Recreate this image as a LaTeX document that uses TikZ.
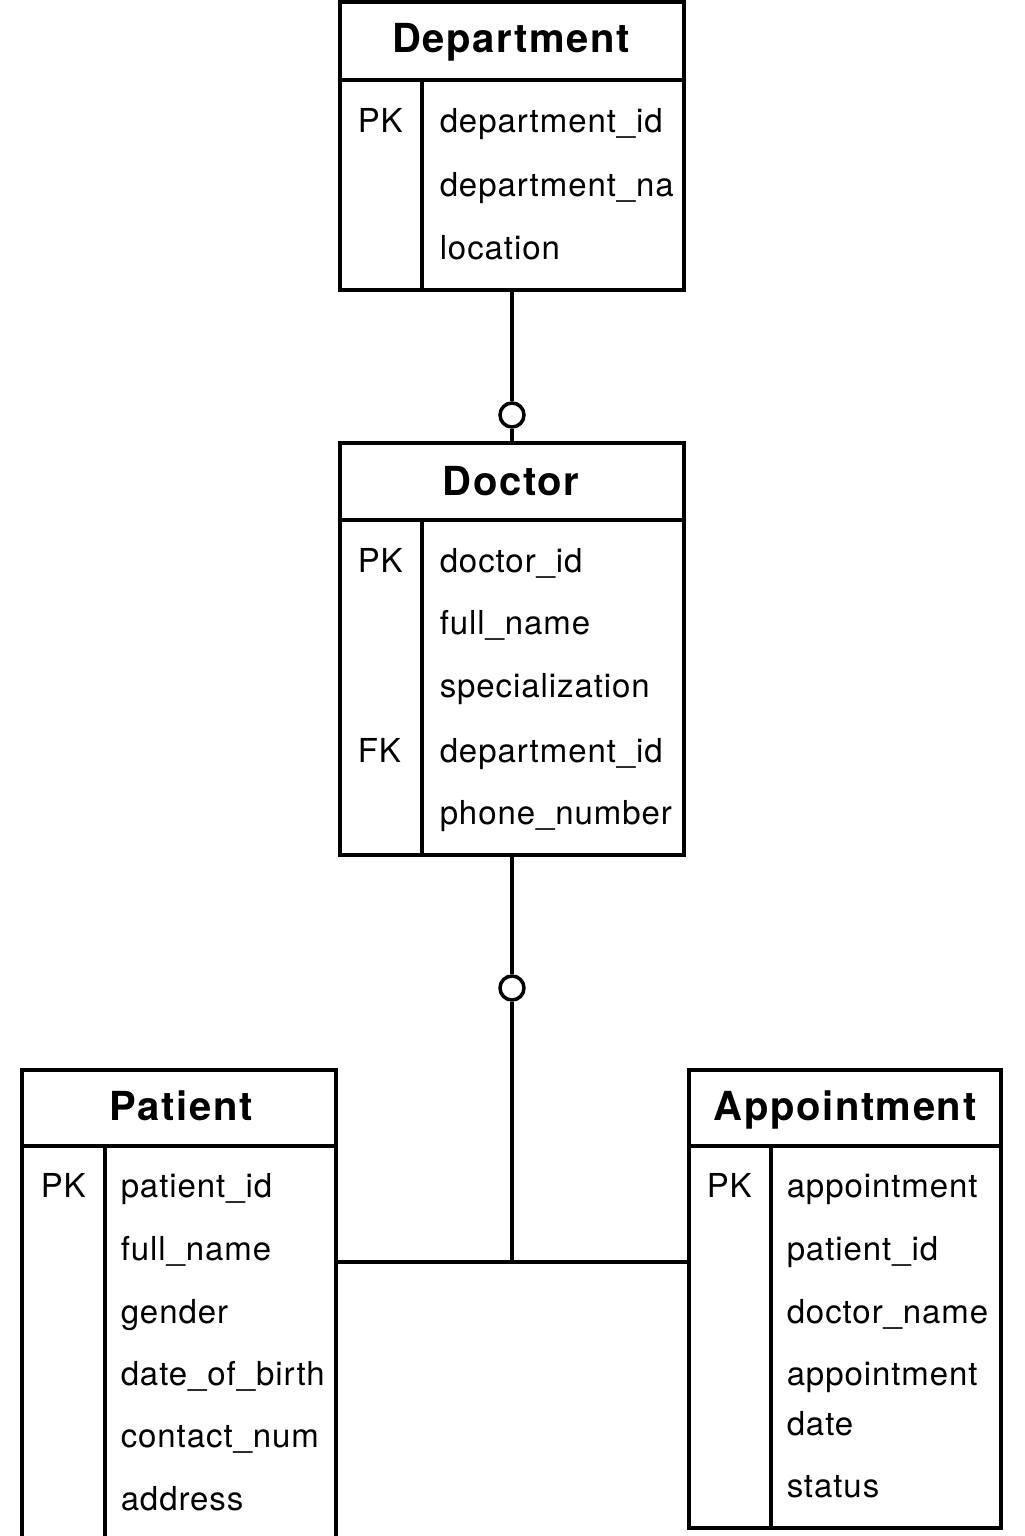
\documentclass[tikz,border=0pt]{standalone}
\usepackage{fontspec}
\newfontfamily\attrfont[LetterSpace=2.8]{TeX Gyre Heros}
\newfontfamily\titlefont[LetterSpace=4]{TeX Gyre Heros}
\begin{document}
\begin{tikzpicture}[x=0.5pt,y=-0.5pt,
  line width=1.75pt,
  entity/.style={draw, rectangle, inner sep=0pt, line width=1.75pt},
  circ/.style={draw, circle, minimum size=12pt, inner sep=0pt, line width=1.75pt, fill=white},
  title/.style={anchor=base, inner sep=0pt, font=\titlefont\bfseries\fontsize{20}{24}\selectfont},
  attr/.style={anchor=base west, inner sep=0pt, font=\attrfont\fontsize{16.5}{20}\selectfont},
]
\useasboundingbox (0,0) rectangle (1024,1536);
\fill[white] (0,0) rectangle (1024,1536);
\clip (0,0) rectangle (1024,1536);

% Department
\node[entity, minimum width=172pt, minimum height=144pt] (dept) at (512,146) {};
\draw (dept.west |- 0,80) -- (dept.east |- 0,80);
\draw (422,80) -- (422,290);
\node[title] (deptT) at (511,53) {Department};
\node[attr] (deptPK) at (356,133) {PK};
\node[attr] (deptA1) at (438,133) {department\_id};
\node[attr] (deptA2) at (438,196) {department\_na};
\node[attr] (deptA3) at (438,259) {location};

% Doctor
\node[entity, minimum width=172pt, minimum height=206pt] (doc) at (512,649) {};
\draw (doc.west |- 0,520) -- (doc.east |- 0,520);
\draw (422,520) -- (422,855);
\node[title] (docT) at (511,495) {Doctor};
\node[attr] (docPK) at (356,572) {PK};
\node[attr] (docFK) at (356,762) {FK};
\node[attr] (docA1) at (438,572) {doctor\_id};
\node[attr] (docA2) at (438,634) {full\_name};
\node[attr] (docA3) at (438,697) {specialization};
\node[attr] (docA4) at (438,762) {department\_id};
\node[attr] (docA5) at (438,824) {phone\_number};

% Patient
\node[entity, minimum width=157pt, minimum height=245pt] (pat) at (179,1315) {};
\draw (pat.west |- 0,1146) -- (pat.east |- 0,1146);
\draw (105,1146) -- (105,1560);
\node[title] (patT) at (181,1120) {Patient};
\node[attr] (patPK) at (39,1197) {PK};
\node[attr] (patA1) at (119,1197) {patient\_id};
\node[attr] (patA2) at (119,1260) {full\_name};
\node[attr] (patA3) at (119,1323) {gender};
\node[attr] (patA4) at (119,1385) {date\_of\_birth};
\node[attr] (patA5) at (119,1447) {contact\_num};
\node[attr] (patA6) at (119,1510) {address};

% Appointment
\node[entity, minimum width=156pt, minimum height=229pt] (app) at (845,1299) {};
\draw (app.west |- 0,1146) -- (app.east |- 0,1146);
\draw (771,1146) -- (771,1528);
\node[title] (appT) at (845,1120) {Appointment};
\node[attr] (appPK) at (705,1197) {PK};
\node[attr] (appA1) at (785,1197) {appointment};
\node[attr] (appA2) at (785,1260) {patient\_id};
\node[attr] (appA3) at (785,1323) {doctor\_name};
\node[attr] (appA4) at (785,1385) {appointment};
\node[attr] (appA4b) at (785,1435) {date};
\node[attr] (appA5) at (785,1497) {status};

% Connectors
\node[circ] (c1) at (512,415) {};
\node[circ] (c2) at (512,988) {};
\coordinate (j) at (512,1262);
\draw (dept.south) -- (c1.north);
\draw (c1.south) -- (doc.north);
\draw (doc.south) -- (c2.north);
\draw (c2.south) -- (j);
\draw (pat.east |- j) -- (app.west |- j);
\end{tikzpicture}
\end{document}
